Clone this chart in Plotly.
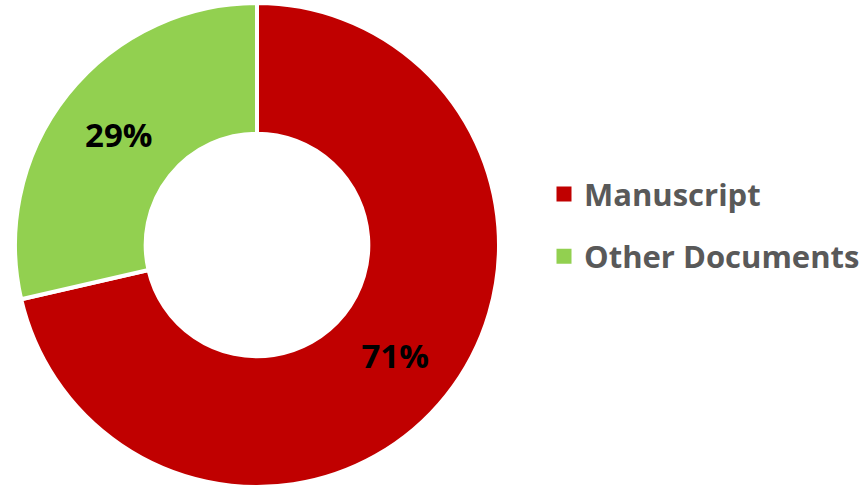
import plotly.graph_objects as go

labels = ["Manuscript", "Other Documents"]
values = [71.4, 28.6]
colors = ["#C00000", "#92D050"]

W, H = 867, 490
fig = go.Figure()
fig.add_trace(go.Pie(
    labels=labels, values=values, hole=0.46, sort=False, direction="clockwise",
    rotation=0,
    marker=dict(colors=colors, line=dict(color="white", width=4)),
    texttemplate="%{percent:.0%}", textposition="inside", insidetextorientation="horizontal",
    textfont=dict(family="Open Sans", size=33, color="black", weight="bold"),
    domain=dict(x=[15 / W, 499 / W], y=[3 / H, 487 / H]),
    showlegend=False, hoverinfo="label+percent",
))
for i, (lab, col) in enumerate(zip(labels, colors)):
    fig.add_trace(go.Scatter(
        x=[None], y=[None], mode="markers", name=lab, legendgroup=lab,
        marker=dict(symbol="square", size=15, color=col), showlegend=True,
    ))

fig.update_layout(
    width=W, height=H, margin=dict(l=0, r=0, t=0, b=0),
    paper_bgcolor="white", plot_bgcolor="white",
    xaxis=dict(visible=False), yaxis=dict(visible=False),
    legend=dict(x=544 / W, xanchor="left", y=0.54, yanchor="middle",
                font=dict(family="Open Sans", size=31, color="#595959", weight="bold"),
                tracegroupgap=19, bgcolor="rgba(0,0,0,0)"),
)
fig.write_html("out.html", config={"displayModeBar": False},
               post_script="document.body.style.margin='0';document.body.style.overflow='hidden';")
